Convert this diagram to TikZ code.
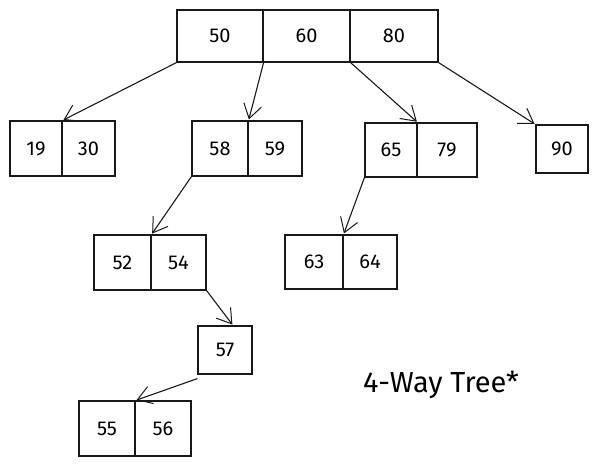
\documentclass[tikz,border=0pt]{standalone}
\usepackage{fontspec}
\setmainfont{Fira Sans}
\usetikzlibrary{arrows.meta}
\begin{document}
\begin{tikzpicture}[x=1pt,y=-1pt,
  cell/.style={draw=black!90, line width=1.2pt, inner sep=0pt, font=\fontsize{20}{24}\selectfont, text=black},
  link/.style={draw=black!90, line width=1.1pt, -{Straight Barb[length=14pt,width=18pt,line width=1pt]}, shorten >=1pt}
]
\useasboundingbox (0,0) rectangle (598,466);
% root
\node[cell, minimum width=86pt, minimum height=52pt] (r1) at (220,36) {50};
\node[cell, minimum width=87pt, minimum height=52pt] (r2) at (306.5,36) {60};
\node[cell, minimum width=88pt, minimum height=52pt] (r3) at (394,36) {80};
% level 1
\node[cell, minimum width=52pt, minimum height=55pt] (a1) at (36,148.5) {19};
\node[cell, minimum width=53pt, minimum height=55pt] (a2) at (88.5,148.5) {30};
\node[cell, minimum width=56pt, minimum height=55pt] (b1) at (220,148.5) {58};
\node[cell, minimum width=54pt, minimum height=55pt] (b2) at (275,148.5) {59};
\node[cell, minimum width=52pt, minimum height=54pt] (c1) at (391,150) {65};
\node[cell, minimum width=60pt, minimum height=54pt] (c2) at (447,150) {79};
\node[cell, minimum width=52pt, minimum height=48pt] (d) at (562,149) {90};
% level 2
\node[cell, minimum width=57pt, minimum height=55pt] (e1) at (122.5,262.5) {52};
\node[cell, minimum width=55pt, minimum height=55pt] (e2) at (178.5,262.5) {54};
\node[cell, minimum width=58pt, minimum height=54pt] (f1) at (314,262) {63};
\node[cell, minimum width=54pt, minimum height=54pt] (f2) at (370,262) {64};
% level 3
\node[cell, minimum width=54pt, minimum height=48pt] (g) at (225,350) {57};
% level 4
\node[cell, minimum width=56pt, minimum height=55pt] (h1) at (107,428.5) {55};
\node[cell, minimum width=56pt, minimum height=55pt] (h2) at (163,428.5) {56};
% title
\node[font=\fontsize{29}{33}\selectfont, text=black] (title) at (441,385) {4-Way Tree*};
% links
\draw[link] (r1.south west) -- (a1.north east);
\draw[link] (r1.south east) -- (b1.north east);
\draw[link] (r2.south east) -- (c1.north east);
\draw[link] (r3.south east) -- (d.north west);
\draw[link] (b1.south west) -- (e1.north east);
\draw[link] (c1.south west) -- (f1.north east);
\draw[link] (e2.south east) -- ([xshift=8pt]g.north);
\draw[link] ([yshift=-4pt]g.south west) -- (h1.north east);
\end{tikzpicture}
\end{document}
